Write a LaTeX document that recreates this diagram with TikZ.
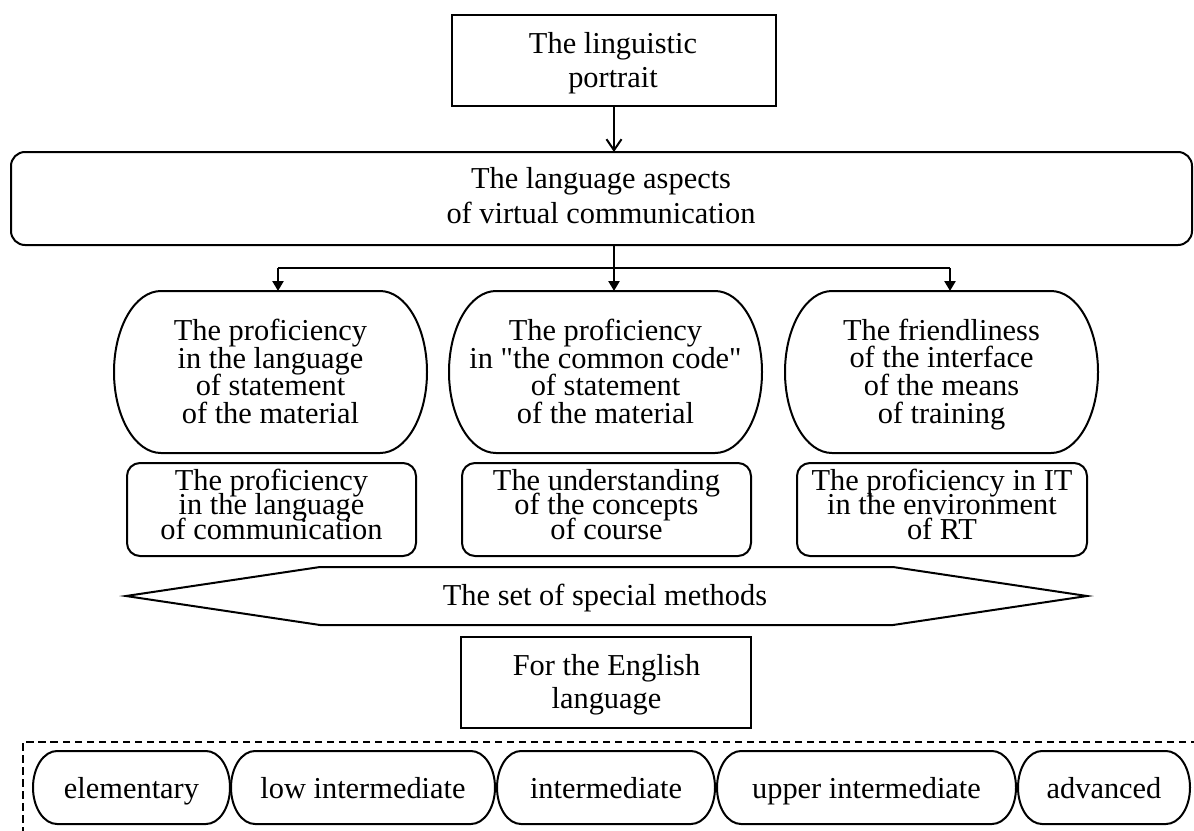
\documentclass[tikz,border=0pt]{standalone}
\usepackage{fontspec}
\setmainfont{Liberation Serif}[Ligatures=TeXOff]
\usetikzlibrary{arrows.meta}
\newcommand\ellshape[3]{\draw[shp] ([xshift=#2]#1.north west) -- ([xshift=-#2]#1.north east) arc[start angle=90,end angle=-90,x radius=#2,y radius=#3] -- ([xshift=#2]#1.south west) arc[start angle=270,end angle=90,x radius=#2,y radius=#3] -- cycle;}
\newcommand\txtfont[1]{\fontsize{30.4}{#1}\selectfont\lineskiplimit=-100pt\lineskip=0pt}
\begin{document}
\begin{tikzpicture}[x=1pt,y=1pt,
  shp/.style={draw=black,line width=2pt},
  box/.style={shp,rectangle,inner sep=0pt,outer sep=0pt},
  rbox/.style={box,rounded corners=14pt},
  holder/.style={rectangle,inner sep=0pt,outer sep=0pt,draw=none},
  txt/.style={align=center,inner sep=0pt,outer sep=0pt},
  arrowtop/.style={line width=2pt,-{Straight Barb[length=11pt,width=15pt]}},
  conn/.style={line width=2.2pt},
  arrowdown/.style={line width=2.6pt,-{Triangle[length=10pt,width=11pt]}},
  dashedframe/.style={line width=2.6pt,dash pattern=on 7.5pt off 4.5pt}]
\useasboundingbox (0,0) rectangle (1194,-830);
\clip (0,0) rectangle (1194,-830);
\fill[white] (0,0) rectangle (1194,-830);

% top box
\node[box,minimum width=324pt,minimum height=91pt] (portrait) at (614,-60.5) {};
\node[txt,font=\txtfont{34}] (portraittext) at (613,-62.9) {The linguistic\\portrait};

% big box
\node[rbox,minimum width=1181pt,minimum height=93pt] (aspects) at (601.5,-198.5) {};
\node[txt,font=\txtfont{35}] (aspectstext) at (601,-195.3) {The language aspects\\of virtual communication};

\draw[arrowtop] (portrait.south) -- (portrait.south |- aspects.north);

% ovals
\node[holder,minimum width=313pt,minimum height=162pt] (oval1) at (270.5,-372) {};
\node[holder,minimum width=313pt,minimum height=162pt] (oval2) at (605.5,-372) {};
\node[holder,minimum width=313pt,minimum height=162pt] (oval3) at (941.5,-372) {};
\ellshape{oval1}{47pt}{81pt}
\ellshape{oval2}{47pt}{81pt}
\ellshape{oval3}{47pt}{81pt}
\node[txt,font=\txtfont{27.7}] (oval1text) at (270.5,-371.3) {The proficiency\\in the language\\of statement\\of the material};
\node[txt,font=\txtfont{27.7}] (oval2text) at (605.5,-371.3) {The proficiency\\in "the common code"\\of statement\\of the material};
\node[txt,font=\txtfont{27.7}] (oval3text) at (941.5,-374.4) {The friendliness\\of the interface\\of the means\\of training};

% connectors to ovals
\coordinate (jl) at (278,-268);
\coordinate (jm) at (614,-268);
\coordinate (jr) at (950,-268);
\draw[conn] (aspects.south -| jm) -- (jm);
\draw[conn] (jl) -- (jr);
\draw[arrowdown] (jl) -- (jl |- oval1.north);
\draw[arrowdown] (jm) -- (jm |- oval2.north);
\draw[arrowdown] (jr) -- (jr |- oval3.north);

% small boxes
\node[rbox,rounded corners=13pt,minimum width=289pt,minimum height=93pt] (skill1) at (271.5,-509.5) {};
\node[rbox,rounded corners=13pt,minimum width=289pt,minimum height=93pt] (skill2) at (606.5,-509.5) {};
\node[rbox,rounded corners=13pt,minimum width=290pt,minimum height=93pt] (skill3) at (942,-509.5) {};
\node[txt,font=\txtfont{24.5}] (skill1text) at (271.5,-504.4) {The proficiency\\in the language\\of communication};
\node[txt,font=\txtfont{24.5}] (skill2text) at (606.5,-504.4) {The understanding\\of the concepts\\of course};
\node[txt,font=\txtfont{24.5}] (skill3text) at (942,-504.4) {The proficiency in IT\\in the environment\\of RT};

% hexagon
\node[holder,minimum width=961pt,minimum height=58pt] (methods) at (606.5,-596) {};
\draw[shp] (methods.west) -- ([xshift=194pt]methods.north west) -- ([xshift=-194pt]methods.north east) -- (methods.east) -- ([xshift=-194pt]methods.south east) -- ([xshift=194pt]methods.south west) -- cycle;
\node[txt,font=\txtfont{34},anchor=base] (methodstext) at (605,-605) {The set of special methods};

% English box
\node[box,minimum width=290pt,minimum height=91pt] (english) at (606,-682.5) {};
\node[txt,font=\txtfont{33.3}] (englishtext) at (606.5,-684.6) {For the English\\language};

% dashed frame
\draw[dashedframe] (1210,-742) -- (23,-742) -- (23,-850);

% levels
\node[holder,minimum width=197pt,minimum height=73pt] (lvl1) at (131.5,-787.5) {};
\node[holder,minimum width=264pt,minimum height=73pt] (lvl2) at (363,-787.5) {};
\node[holder,minimum width=218pt,minimum height=73pt] (lvl3) at (606,-787.5) {};
\node[holder,minimum width=299pt,minimum height=73pt] (lvl4) at (866.5,-787.5) {};
\node[holder,minimum width=172pt,minimum height=73pt] (lvl5) at (1104,-787.5) {};
\ellshape{lvl1}{24pt}{36.5pt}
\ellshape{lvl2}{24pt}{36.5pt}
\ellshape{lvl3}{24pt}{36.5pt}
\ellshape{lvl4}{24pt}{36.5pt}
\ellshape{lvl5}{24pt}{36.5pt}
\node[txt,font=\txtfont{34},anchor=base] (lvl1text) at (131.5,-798) {elementary};
\node[txt,font=\txtfont{34},anchor=base] (lvl2text) at (363,-798) {low intermediate};
\node[txt,font=\txtfont{34},anchor=base] (lvl3text) at (606,-798) {intermediate};
\node[txt,font=\txtfont{34},anchor=base] (lvl4text) at (866.5,-798) {upper intermediate};
\node[txt,font=\txtfont{34},anchor=base] (lvl5text) at (1104,-798) {advanced};
\end{tikzpicture}
\end{document}
